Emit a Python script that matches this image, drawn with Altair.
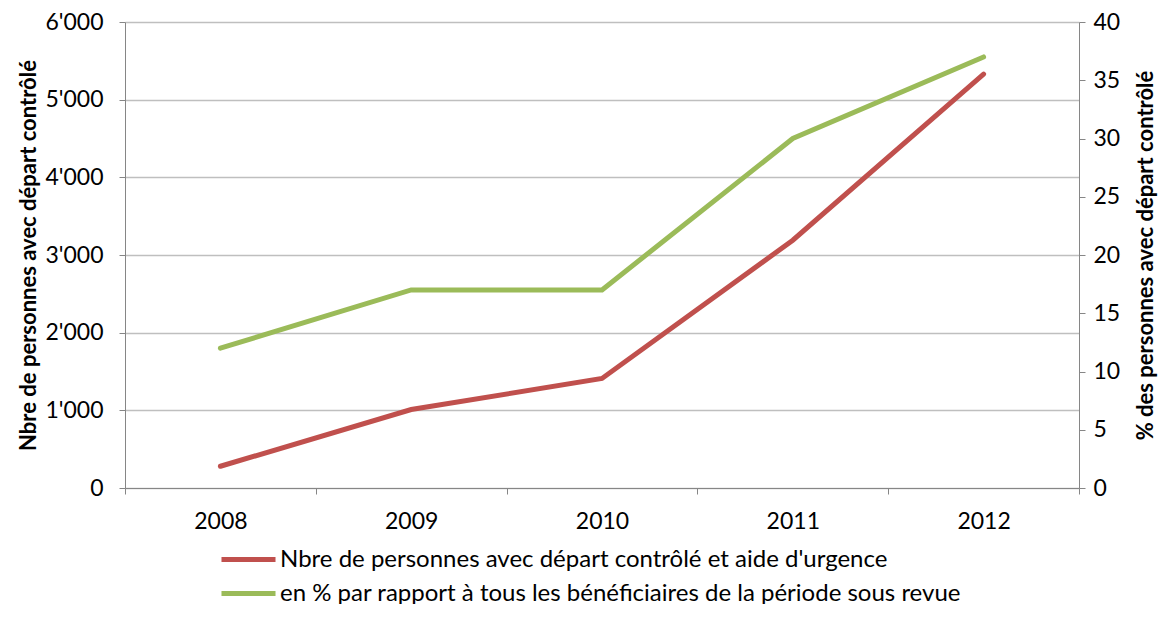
import altair as alt
import pandas as pd

years = ["2008", "2009", "2010", "2011", "2012"]
persons = [280, 1010, 1410, 3190, 5330]
percent = [12, 17, 17, 30, 37]
series = [
    "Nbre de personnes avec départ contrôlé et aide d'urgence",
    "en % par rapport à tous les bénéficiaires de la période sous revue",
]
left_ticks = [0, 1000, 2000, 3000, 4000, 5000, 6000]
right_ticks = [0, 5, 10, 15, 20, 25, 30, 35, 40]
colors = ["#c0504d", "#9bbb59"]

FONT = "Lato"
AXIS_GRAY = "#868686"

df1 = pd.DataFrame({"year": years, "value": persons, "series": series[0]})
df2 = pd.DataFrame({"year": years, "value": percent, "series": series[1]})

color = alt.Color(
    "series:N",
    scale=alt.Scale(domain=series, range=colors),
    legend=alt.Legend(
        orient="none", legendX=110, legendY=524, title=None,
        symbolType="M-2.5,0H2.5", symbolSize=467, symbolStrokeWidth=5,
        labelFontSize=24, labelFont=FONT, labelColor="#000000",
        labelLimit=0, rowPadding=8, labelOffset=18,
    ),
)

x = alt.X(
    "year:O", title=None, bandPosition=0.5,
    scale=alt.Scale(type="band", paddingInner=0, paddingOuter=0),
    axis=alt.Axis(
        labelAngle=0, tickBand="extent", grid=False, domainColor=AXIS_GRAY,
        tickColor=AXIS_GRAY, tickSize=6, labelFontSize=23, labelFont=FONT,
        labelColor="#000000", labelPadding=16,
    ),
)

left = alt.Chart(df1).mark_line(strokeWidth=5, strokeCap="round").encode(
    x=x,
    y=alt.Y(
        "value:Q",
        scale=alt.Scale(domain=[0, 6000], nice=False),
        axis=alt.Axis(
            values=left_ticks, orient="left",
            labelExpr="replace(format(datum.value, ','), ',', \"'\")",
            grid=True, gridColor="#bfbfbf", gridWidth=1.3,
            domainColor=AXIS_GRAY, tickColor=AXIS_GRAY, tickSize=6,
            labelFontSize=23, labelFont=FONT, labelColor="#000000",
            labelPadding=16,
            title="Nbre de personnes  avec départ contrôlé",
            titleFont=FONT, titleFontSize=22, titleFontWeight="bold",
            titleColor="#000000", titlePadding=4,
        ),
    ),
    color=color,
)

right = alt.Chart(df2).mark_line(strokeWidth=5, strokeCap="round").encode(
    x=x,
    y=alt.Y(
        "value:Q",
        scale=alt.Scale(domain=[0, 40], nice=False),
        axis=alt.Axis(
            values=right_ticks, orient="right", grid=False,
            domainColor=AXIS_GRAY, tickColor=AXIS_GRAY, tickSize=6,
            labelFontSize=23, labelFont=FONT, labelColor="#000000",
            labelPadding=8,
            title="% des personnes  avec départ contrôlé",
            titleAngle=270,
            titleFont=FONT, titleFontSize=22, titleFontWeight="bold",
            titleColor="#000000", titlePadding=38,
        ),
    ),
    color=color,
)

chart = (
    alt.layer(left, right)
    .resolve_scale(y="independent")
    .properties(
        width=954, height=466,
        autosize=alt.AutoSizeParams(type="none"),
        padding={"left": 117, "top": 14, "right": 79, "bottom": 116},
        background="white",
    )
    .configure_view(stroke=None)
)

chart.save("out.html", embed_options={"renderer": "svg", "actions": False})
